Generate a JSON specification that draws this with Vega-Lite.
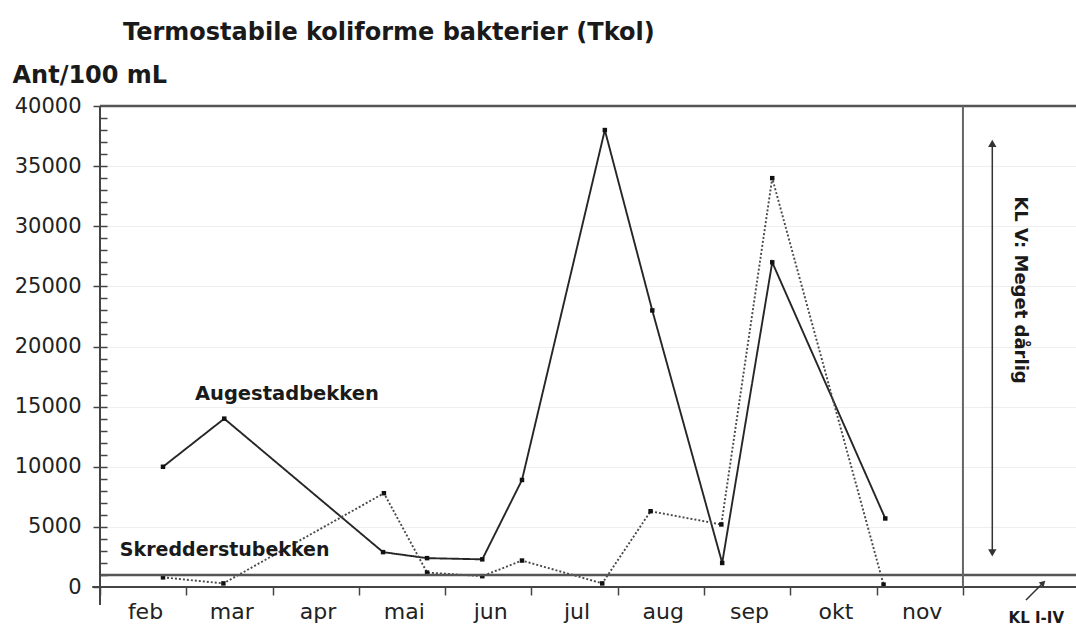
{
  "$schema": "https://vega.github.io/schema/vega-lite/v6.json",
  "width": 976,
  "height": 481,
  "autosize": {"type": "none"},
  "padding": {"left": 100, "top": 106, "right": 0, "bottom": 51},
  "background": "white",
  "config": {"view": {"stroke": null}, "font": "DejaVu Sans"},
  "title": {
    "text": "Termostabile koliforme bakterier (Tkol)",
    "anchor": "start",
    "frame": "group",
    "dx": 23,
    "offset": 18,
    "fontSize": 24,
    "font": "DejaVu Sans",
    "fontWeight": "bold",
    "color": "#1a1a1a"
  },
  "datasets": {
    "obs": [
      {"bekk": "Augestadbekken", "maaned": 0.73, "tkol": 10000},
      {"bekk": "Augestadbekken", "maaned": 1.44, "tkol": 14000},
      {"bekk": "Augestadbekken", "maaned": 3.28, "tkol": 2900},
      {"bekk": "Augestadbekken", "maaned": 3.79, "tkol": 2400},
      {"bekk": "Augestadbekken", "maaned": 4.43, "tkol": 2300},
      {"bekk": "Augestadbekken", "maaned": 4.89, "tkol": 8900},
      {"bekk": "Augestadbekken", "maaned": 5.85, "tkol": 38000},
      {"bekk": "Augestadbekken", "maaned": 6.4, "tkol": 23000},
      {"bekk": "Augestadbekken", "maaned": 7.21, "tkol": 2000},
      {"bekk": "Augestadbekken", "maaned": 7.79, "tkol": 27000},
      {"bekk": "Augestadbekken", "maaned": 9.1, "tkol": 5700},
      {"bekk": "Skredderstubekken", "maaned": 0.73, "tkol": 800},
      {"bekk": "Skredderstubekken", "maaned": 1.43, "tkol": 300},
      {"bekk": "Skredderstubekken", "maaned": 3.29, "tkol": 7800},
      {"bekk": "Skredderstubekken", "maaned": 3.79, "tkol": 1200},
      {"bekk": "Skredderstubekken", "maaned": 4.43, "tkol": 900},
      {"bekk": "Skredderstubekken", "maaned": 4.89, "tkol": 2200},
      {"bekk": "Skredderstubekken", "maaned": 5.82, "tkol": 300},
      {"bekk": "Skredderstubekken", "maaned": 6.38, "tkol": 6300},
      {"bekk": "Skredderstubekken", "maaned": 7.2, "tkol": 5200},
      {"bekk": "Skredderstubekken", "maaned": 7.79, "tkol": 34000},
      {"bekk": "Skredderstubekken", "maaned": 9.08, "tkol": 200}
    ]
  },
  "layer": [
    {
      "layer": [
        {
          "data": {"name": "obs"},
          "mark": {"type": "line", "strokeWidth": 1.9},
          "encoding": {
            "x": {
              "field": "maaned",
              "type": "quantitative",
              "scale": {"domain": [0, 11.31], "nice": false, "zero": false},
              "axis": {
                "orient": "bottom",
                "values": [0, 1, 2, 3, 4, 5, 6, 7, 8, 9, 10],
                "labelExpr": "['feb','mar','apr','mai','jun','jul','aug','sep','okt','nov',''][datum.value]",
                "labelOffset": 45,
                "labelFlush": false,
                "labelOverlap": false,
                "tickSize": 8,
                "tickColor": "#444",
                "tickWidth": 1.5,
                "domain": false,
                "grid": false,
                "title": null,
                "labelFontSize": 22,
                "labelFont": "DejaVu Sans",
                "labelColor": "#222",
                "labelPadding": 6
              }
            },
            "y": {
              "field": "tkol",
              "type": "quantitative",
              "scale": {"domain": [0, 40000], "nice": false},
              "axis": {
                "orient": "left",
                "values": [0, 5000, 10000, 15000, 20000, 25000, 30000, 35000, 40000],
                "format": "d",
                "tickSize": 7,
                "tickColor": "#444",
                "tickWidth": 1.5,
                "domain": false,
                "grid": true,
                "gridColor": "#eeeeee",
                "gridWidth": 1,
                "labelFontSize": 21,
                "labelFont": "DejaVu Sans",
                "labelColor": "#222",
                "labelPadding": 12,
                "title": "Ant/100 mL",
                "titleAngle": 0,
                "titleAlign": "left",
                "titleBaseline": "alphabetic",
                "titleX": -88,
                "titleY": -24,
                "titleFontSize": 24,
                "titleFont": "DejaVu Sans",
                "titleFontWeight": "bold",
                "titleColor": "#1a1a1a"
              }
            },
            "detail": {"field": "bekk"},
            "strokeDash": {
              "field": "bekk",
              "type": "nominal",
              "scale": {"domain": ["Augestadbekken", "Skredderstubekken"], "range": [[1, 0], [2, 2]]},
              "legend": null
            },
            "color": {
              "field": "bekk",
              "type": "nominal",
              "scale": {"domain": ["Augestadbekken", "Skredderstubekken"], "range": ["#262626", "#4a4a4a"]},
              "legend": null
            }
          }
        },
        {
          "data": {"name": "obs"},
          "mark": {"type": "point", "shape": "square", "filled": true, "size": 20, "color": "#111", "opacity": 1},
          "encoding": {
            "x": {"field": "maaned", "type": "quantitative"},
            "y": {"field": "tkol", "type": "quantitative"}
          }
        },
        {
          "data": {"values": [{}]},
          "mark": {"type": "rule", "color": "#555", "strokeWidth": 2.5},
          "encoding": {"x": {"datum": 0}, "x2": {"datum": 11.31}, "y": {"datum": 40000}}
        },
        {
          "data": {"values": [{}]},
          "mark": {"type": "rule", "color": "#555", "strokeWidth": 2.5},
          "encoding": {"x": {"datum": 0}, "x2": {"datum": 11.31}, "y": {"datum": 1000}}
        },
        {
          "data": {"values": [{}]},
          "mark": {"type": "rule", "color": "#444", "strokeWidth": 2},
          "encoding": {"x": {"datum": -0.09}, "x2": {"datum": 11.31}, "y": {"datum": 0}}
        },
        {
          "data": {"values": [{}]},
          "mark": {"type": "rule", "color": "#444", "strokeWidth": 2},
          "encoding": {"x": {"datum": 0}, "y": {"datum": -1500}, "y2": {"datum": 40000}}
        },
        {
          "data": {"values": [{}]},
          "mark": {"type": "rule", "color": "#666", "strokeWidth": 2},
          "encoding": {"x": {"datum": 10}, "y": {"datum": 0}, "y2": {"datum": 40000}}
        },
        {
          "data": {"values": [{}]},
          "mark": {"type": "rule", "color": "#333", "strokeWidth": 1.5},
          "encoding": {"x": {"datum": 10.34}, "y": {"datum": 2830}, "y2": {"datum": 36900}}
        },
        {
          "data": {"values": [{}]},
          "mark": {"type": "point", "shape": "triangle-up", "filled": true, "size": 70, "color": "#333", "opacity": 1},
          "encoding": {"x": {"datum": 10.34}, "y": {"datum": 36900}}
        },
        {
          "data": {"values": [{}]},
          "mark": {"type": "point", "shape": "triangle-down", "filled": true, "size": 70, "color": "#333", "opacity": 1},
          "encoding": {"x": {"datum": 10.34}, "y": {"datum": 2830}}
        },
        {
          "data": {"values": [{}]},
          "mark": {"type": "rule", "color": "#333", "strokeWidth": 1.5},
          "encoding": {"x": {"datum": 10.73}, "y": {"datum": -1080}, "x2": {"datum": 10.93}, "y2": {"datum": 350}}
        },
        {
          "data": {"values": [{}]},
          "mark": {"type": "point", "shape": "triangle-up", "filled": true, "size": 45, "angle": 45, "color": "#333", "opacity": 1},
          "encoding": {"x": {"datum": 10.93}, "y": {"datum": 350}}
        },
        {
          "data": {"values": [{}]},
          "mark": {"type": "text", "text": "Augestadbekken", "align": "left", "baseline": "middle", "fontSize": 19.5, "fontWeight": "bold", "font": "DejaVu Sans", "color": "#1a1a1a"},
          "encoding": {"x": {"datum": 1.1}, "y": {"datum": 16050}}
        },
        {
          "data": {"values": [{}]},
          "mark": {"type": "text", "text": "Skredderstubekken", "align": "left", "baseline": "middle", "fontSize": 19, "fontWeight": "bold", "font": "DejaVu Sans", "color": "#1a1a1a"},
          "encoding": {"x": {"datum": 0.23}, "y": {"datum": 3080}}
        },
        {
          "data": {"values": [{}]},
          "mark": {"type": "text", "text": "KL V: Meget dårlig", "align": "center", "baseline": "middle", "angle": 90, "fontSize": 18, "fontWeight": "bold", "font": "DejaVu Sans", "color": "#1a1a1a"},
          "encoding": {"x": {"datum": 10.66}, "y": {"datum": 24700}}
        },
        {
          "data": {"values": [{}]},
          "mark": {"type": "text", "text": "KL I-IV", "align": "center", "baseline": "middle", "fontSize": 15, "fontWeight": "bold", "font": "DejaVu Sans", "color": "#1a1a1a"},
          "encoding": {"x": {"datum": 10.85}, "y": {"datum": -2600}}
        }
      ]
    },
    {
      "data": {"values": [{}]},
      "mark": {"type": "rule", "opacity": 0},
      "encoding": {
        "y": {
          "datum": 0,
          "type": "quantitative",
          "scale": {"domain": [0, 40000], "nice": false},
          "axis": {
            "orient": "left",
            "values": [1000, 2000, 3000, 4000, 5000, 6000, 7000, 8000, 9000, 10000, 11000, 12000, 13000, 14000, 15000, 16000, 17000, 18000, 19000, 20000, 21000, 22000, 23000, 24000, 25000, 26000, 27000, 28000, 29000, 30000, 31000, 32000, 33000, 34000, 35000, 36000, 37000, 38000, 39000],
            "tickSize": -7,
            "tickColor": "#444",
            "tickWidth": 1.5,
            "labels": false,
            "domain": false,
            "grid": false,
            "title": null
          }
        }
      }
    }
  ],
  "resolve": {"axis": {"y": "independent"}}
}
